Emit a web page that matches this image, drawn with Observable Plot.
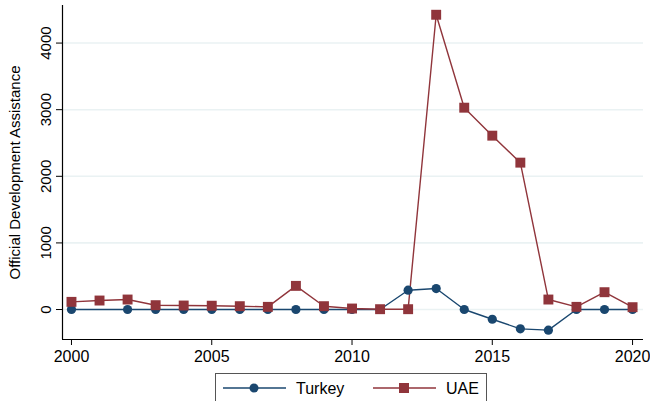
<!DOCTYPE html>
<html>
<head>
<meta charset="utf-8">
<script src="https://cdn.jsdelivr.net/npm/d3@7"></script>
<script src="https://cdn.jsdelivr.net/npm/@observablehq/plot@0.6"></script>
<style>
  body { margin: 0; background: #fff; font-family: "Liberation Sans", Arial, sans-serif; }
  #chart svg { display: block; }
  #legend { position: absolute; left: 215px; top: 373px; width: 272px; height: 32px; border: 1px solid #555; box-sizing: border-box; background: #fff; }
</style>
</head>
<body>
<div id="chart"></div>
<div id="legend"></div>
<script>
const years = [2000,2001,2002,2003,2004,2005,2006,2007,2008,2009,2010,2011,2012,2013,2014,2015,2016,2017,2018,2019,2020];
const turkey = [0,null,0,0,0,0,0,0,0,0,0,0,290,315,0,-146,-290,-310,0,0,0];
const uae = [115,135,150,65,60,57,50,40,355,50,15,5,5,4425,3030,2610,2205,150,40,260,35];
const xTicks = [2000,2005,2010,2015,2020];
const yTicks = [0,1000,2000,3000,4000];
const seriesNames = ["Turkey","UAE"];
const colors = ["#1a476f","#90353b"];

const turkeyData = years.map((y,i)=>({year:y, value:turkey[i]})).filter(d=>d.value!=null);
const uaeData = years.map((y,i)=>({year:y, value:uae[i]}));

const xDom = [1999.68, 2020.39];
const yDom = [-450, 4564];

const chart = Plot.plot({
  width: 650,
  height: 368,
  marginLeft: 62,
  marginRight: 7,
  marginTop: 5,
  marginBottom: 29,
  style: {fontFamily: "'Liberation Sans', Arial, sans-serif", fontSize: "15px", color: "#000", background: "#fff"},
  x: {domain: xDom},
  y: {domain: yDom},
  marks: [
    Plot.ruleY(yTicks, {stroke: "#eaf2f3", strokeWidth: 1.6}),
    Plot.ruleX([xDom[0]], {stroke: "#000", strokeWidth: 1.2}),
    Plot.ruleY([yDom[0]], {stroke: "#000", strokeWidth: 1.2}),
    Plot.axisX({ticks: xTicks, tickFormat: "d", tickSize: 6, tickPadding: 5, label: null, fontSize: "16px", stroke: "#000"}),
    Plot.axisY({ticks: yTicks, tickFormat: "d", tickSize: 6, tickPadding: 6, tickRotate: -90, label: null, fontSize: "15px"}),
    Plot.text(["Official Development Assistance"], {frameAnchor: "left", dx: -47, rotate: -90, textAnchor: "middle", lineAnchor: "middle", fontSize: 15, fill: "#000"}),
    Plot.line(turkeyData, {x: "year", y: "value", stroke: colors[0], strokeWidth: 1.4}),
    Plot.line(uaeData, {x: "year", y: "value", stroke: colors[1], strokeWidth: 1.4}),
    Plot.dot(turkeyData, {x: "year", y: "value", fill: colors[0], r: 4.6, symbol: "circle"}),
    Plot.dot(uaeData, {x: "year", y: "value", fill: colors[1], r: 5.6, symbol: "square"})
  ]
});
document.getElementById("chart").appendChild(chart);

// legend
const lg = d3.select("#legend").append("svg").attr("width", 270).attr("height", 30);
const items = [{x0: 7, name: seriesNames[0], c: colors[0], sym: "circle"}, {x0: 157, name: seriesNames[1], c: colors[1], sym: "square"}];
items.forEach(it => {
  lg.append("line").attr("x1", it.x0).attr("x2", it.x0 + 63).attr("y1", 14).attr("y2", 14).attr("stroke", it.c).attr("stroke-width", 1.4);
  if (it.sym === "circle") lg.append("circle").attr("cx", it.x0 + 31).attr("cy", 14).attr("r", 4.5).attr("fill", it.c);
  else lg.append("rect").attr("x", it.x0 + 26).attr("y", 9).attr("width", 10).attr("height", 10).attr("fill", it.c);
  lg.append("text").attr("x", it.x0 + 73).attr("y", 19.5).attr("font-size", 16).attr("fill", "#000").text(it.name);
});
</script>
</body>
</html>
